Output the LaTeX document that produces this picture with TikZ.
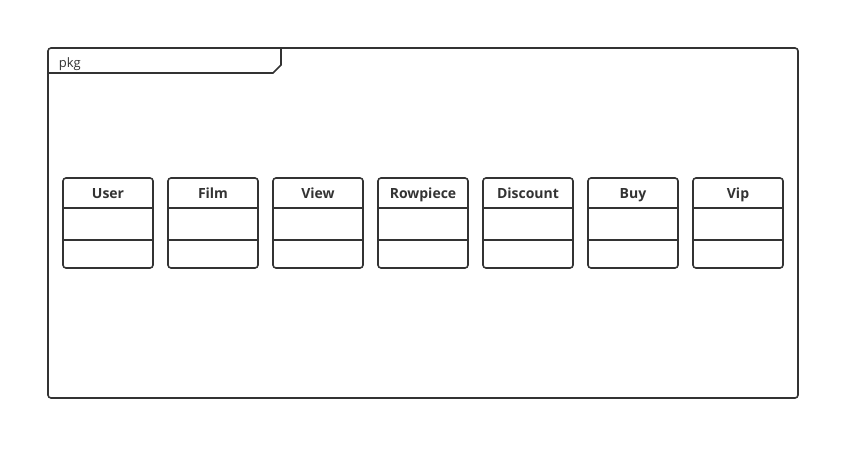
\documentclass[tikz,border=0pt]{standalone}
\usepackage{fontspec}
\setmainfont{Open Sans}
\usepackage{tikz}
\usetikzlibrary{calc}
\definecolor{umlline}{HTML}{333333}

\begin{document}
\begin{tikzpicture}[x=1pt,y=-1pt,
  line width=1.6pt, draw=umlline, text=umlline,
  frame/.style={draw, rounded corners=3pt},
  classbox/.style={draw, rounded corners=3pt, minimum width=90pt, minimum height=90pt, inner sep=0pt},
  classname/.style={font=\fontsize{14}{16}\selectfont\bfseries, inner sep=0pt, anchor=base}]
\useasboundingbox (0,0) rectangle (860,460);
\draw[frame] (48,48) rectangle (798,398);
\draw (48,73) -- (273,73) -- (281,65) -- (281,48);
\node[anchor=base west, font=\fontsize{13}{15}\selectfont, inner sep=0pt] (pkg) at (58,67) {pkg};
\foreach \x/\name/\txt in {108/user/User, 213/film/Film, 318/view/View, 423/rowpiece/Rowpiece,
                           528/discount/Discount, 633/buy/Buy, 738/vip/Vip} {
  \node[classbox] (\name) at (\x,223) {};
  \node[classname] (\name-title) at ($(\name.north)+(0,21)$) {\txt};
  \draw ($(\name.north west)+(0,30.5)$) -- ($(\name.north east)+(0,30.5)$);
  \draw ($(\name.north west)+(0,62.5)$) -- ($(\name.north east)+(0,62.5)$);
}
\end{tikzpicture}
\end{document}
